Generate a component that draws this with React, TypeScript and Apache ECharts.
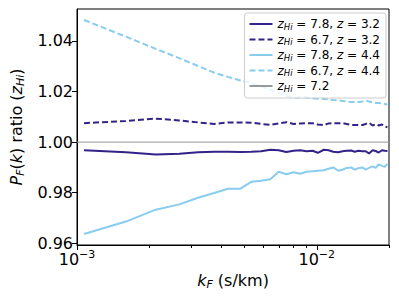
import React, { useEffect, useRef } from "react";
import * as echarts from "echarts";

// k_F (s/km) sample points
const kF = [
  0.00107, 0.0016, 0.00213, 0.00267, 0.0032, 0.00373, 0.00426, 0.0048, 0.00533,
  0.00586, 0.0064, 0.00693, 0.00746, 0.008, 0.00853, 0.00906, 0.0096, 0.0101,
  0.0107, 0.0112, 0.0117, 0.0123, 0.0128, 0.0133, 0.0139, 0.0144, 0.0149,
  0.0155, 0.016, 0.0165, 0.0171, 0.0176, 0.0181, 0.0187, 0.0192, 0.0197,
];

// zHi = 7.8, z = 3.2
const ratioHi78z32 = [
  0.9968, 0.996, 0.9951, 0.9954, 0.996, 0.9962, 0.9962, 0.9961, 0.9962, 0.9964,
  0.997, 0.9968, 0.9961, 0.9966, 0.9968, 0.9964, 0.9966, 0.9958, 0.997, 0.9968,
  0.9962, 0.996, 0.9964, 0.9966, 0.9967, 0.9962, 0.9966, 0.9964, 0.9964, 0.9955,
  0.9968, 0.9965, 0.9959, 0.9968, 0.9966, 0.9965,
];
// zHi = 6.7, z = 3.2
const ratioHi67z32 = [
  1.0075, 1.0084, 1.0093, 1.0086, 1.0078, 1.0072, 1.0078, 1.0078, 1.0077, 1.0072,
  1.0068, 1.0074, 1.0079, 1.0072, 1.0074, 1.0075, 1.0075, 1.007, 1.0067, 1.0074,
  1.0075, 1.0075, 1.0075, 1.0072, 1.0068, 1.0068, 1.0068, 1.0068, 1.0072, 1.0077,
  1.0066, 1.0071, 1.0066, 1.007, 1.0062, 1.0059,
];
// zHi = 7.8, z = 4.4
const ratioHi78z44 = [
  0.9637, 0.9686, 0.9733, 0.9754, 0.978, 0.9799, 0.9816, 0.9816, 0.9843, 0.9847,
  0.9853, 0.9883, 0.9873, 0.9881, 0.9875, 0.9883, 0.9885, 0.9887, 0.9889, 0.9895,
  0.99, 0.9887, 0.9891, 0.9898, 0.99, 0.9891, 0.9897, 0.99, 0.9891, 0.9898,
  0.9904, 0.9898, 0.9912, 0.9906, 0.9902, 0.9914,
];
// zHi = 6.7, z = 4.4
const ratioHi67z44 = [
  1.0483, 1.0417, 1.0369, 1.0332, 1.0301, 1.0275, 1.0258, 1.0244, 1.0234, 1.022,
  1.0207, 1.0195, 1.0183, 1.0175, 1.0178, 1.0177, 1.0174, 1.0172, 1.0171, 1.0169,
  1.0167, 1.0165, 1.0163, 1.0161, 1.0159, 1.0159, 1.0159, 1.0161, 1.0165, 1.0161,
  1.0157, 1.0155, 1.0155, 1.0153, 1.0151, 1.0149,
];
// reference line zHi = 7.2
const refLevel = 1.0;

const xMin = 0.001;
const xMax = 0.02;
const yMin = 0.95933;
const yMax = 1.05265;
const xMajorTicks = [0.001, 0.01];
const xMinorTicks = [0.002, 0.003, 0.004, 0.005, 0.006, 0.007, 0.008, 0.009, 0.02];
const yTicks = [0.96, 0.98, 1.0, 1.02, 1.04];

const seriesNames = [
  "zHi = 7.8, z = 3.2",
  "zHi = 6.7, z = 3.2",
  "zHi = 7.8, z = 4.4",
  "zHi = 6.7, z = 4.4",
  "zHi = 7.2",
];
const legendRichText: Record<string, string> = {
  "zHi = 7.8, z = 3.2": "{i|z}{s|Hi}{n| = 7.8, }{i|z}{n| = 3.2}",
  "zHi = 6.7, z = 3.2": "{i|z}{s|Hi}{n| = 6.7, }{i|z}{n| = 3.2}",
  "zHi = 7.8, z = 4.4": "{i|z}{s|Hi}{n| = 7.8, }{i|z}{n| = 4.4}",
  "zHi = 6.7, z = 4.4": "{i|z}{s|Hi}{n| = 6.7, }{i|z}{n| = 4.4}",
  "zHi = 7.2": "{i|z}{s|Hi}{n| = 7.2}",
};

const DARK = "#332288";
const LIGHT = "#88CCEE";
const FONT = "DejaVu Sans";

function pairs(xs: number[], ys: number[]) {
  return xs.map((x, i) => [x, ys[i]]);
}

export default function App() {
  const ref = useRef<HTMLDivElement>(null);
  useEffect(() => {
    if (!ref.current) return;
    const chart = echarts.init(ref.current, null, { renderer: "svg" });
    const mk = (name: string, data: number[], color: string, dashed: boolean) => ({
      name,
      type: "line",
      data: pairs(kF, data),
      symbol: "none",
      showSymbol: false,
      lineStyle: { color, width: 2, type: dashed ? [6, 3] : "solid" },
      itemStyle: { color },
      z: 3,
    });
    const axisRich = {
      b: { fontFamily: FONT, fontSize: 16, color: "#000", lineHeight: 20 },
      p: { fontFamily: FONT, fontSize: 11, color: "#000", lineHeight: 11, verticalAlign: "top" },
    };
    const nameRich = {
      n: { fontFamily: FONT, fontSize: 16, color: "#000", lineHeight: 20 },
      i: { fontFamily: FONT, fontSize: 16, fontStyle: "italic", color: "#000", lineHeight: 20 },
      s: { fontFamily: FONT, fontSize: 11, fontStyle: "italic", color: "#000", lineHeight: 12, verticalAlign: "bottom" },
    };
    chart.setOption({
      animation: false,
      grid: {
        left: 75,
        right: 10,
        top: 9,
        bottom: 54,
        show: true,
        borderColor: "#000",
        borderWidth: 1,
        backgroundColor: "transparent",
      },
      legend: {
        orient: "vertical",
        right: 13,
        top: 13,
        itemWidth: 23,
        itemHeight: 14,
        itemGap: 2.5,
        padding: [5, 6, 5, 4],
        backgroundColor: "rgba(255,255,255,0.8)",
        borderColor: "#cccccc",
        borderWidth: 1,
        borderRadius: 3,
        itemStyle: { opacity: 0 },
        data: seriesNames,
        formatter: (name: string) => legendRichText[name] || name,
        textStyle: {
          fontFamily: FONT,
          fontSize: 12,
          color: "#000",
          rich: {
            n: { fontFamily: FONT, fontSize: 12, color: "#000", lineHeight: 14 },
            i: { fontFamily: FONT, fontSize: 12, fontStyle: "italic", color: "#000", lineHeight: 14 },
            s: { fontFamily: FONT, fontSize: 8.5, fontStyle: "italic", color: "#000", lineHeight: 8, verticalAlign: "bottom" },
          },
        },
      },
      xAxis: [
        {
          type: "log",
          logBase: 10,
          min: xMin,
          max: xMax,
          position: "bottom",
          name: "{i|k}{s|F}{n| (s/km)}",
          nameLocation: "middle",
          nameGap: 25,
          nameTextStyle: { rich: nameRich },
          axisLine: { show: true, lineStyle: { color: "#000", width: 1 } },
          axisTick: { show: true, length: 5, lineStyle: { color: "#000" }, customValues: xMajorTicks },
          axisLabel: {
            customValues: xMajorTicks,
            margin: 4,
            formatter: (v: number) => `{b|10}{p|−${-Math.round(Math.log10(v))}}`,
            rich: axisRich,
          },
          splitLine: { show: false },
          minorTick: { show: false },
        },
        {
          type: "log",
          logBase: 10,
          min: xMin,
          max: xMax,
          position: "bottom",
          axisLine: { show: false },
          axisTick: { show: true, length: 3, lineStyle: { color: "#000" }, customValues: xMinorTicks },
          axisLabel: { show: false },
          splitLine: { show: false },
        },
      ],
      yAxis: {
        type: "value",
        min: yMin,
        max: yMax,
        name: "{i|P}{s|F}{n|(}{i|k}{n|) ratio (}{i|z}{s|Hi}{n|)}",
        nameLocation: "middle",
        nameRotate: 90,
        nameGap: 51,
        nameTextStyle: { rich: nameRich },
        axisLine: { show: true, lineStyle: { color: "#000", width: 1 } },
        axisTick: { show: true, length: 5, lineStyle: { color: "#000" }, customValues: yTicks },
        axisLabel: {
          customValues: yTicks,
          margin: 4,
          fontFamily: FONT,
          fontSize: 16,
          color: "#000",
          formatter: (v: number) => v.toFixed(2),
        },
        splitLine: { show: false },
      },
      series: [
        mk(seriesNames[0], ratioHi78z32, DARK, false),
        mk(seriesNames[1], ratioHi67z32, DARK, true),
        mk(seriesNames[2], ratioHi78z44, LIGHT, false),
        mk(seriesNames[3], ratioHi67z44, LIGHT, true),
        {
          name: seriesNames[4],
          type: "line",
          data: [
            [xMin, refLevel],
            [xMax, refLevel],
          ],
          symbol: "none",
          showSymbol: false,
          lineStyle: { color: "#999999", width: 1 },
          itemStyle: { color: "#999999" },
          z: 2,
        },
      ],
    });
    return () => chart.dispose();
  }, []);
  return (
    <div
      ref={ref}
      style={{ position: "fixed", left: 0, top: 0, width: 399, height: 299, background: "#fff" }}
    />
  );
}
